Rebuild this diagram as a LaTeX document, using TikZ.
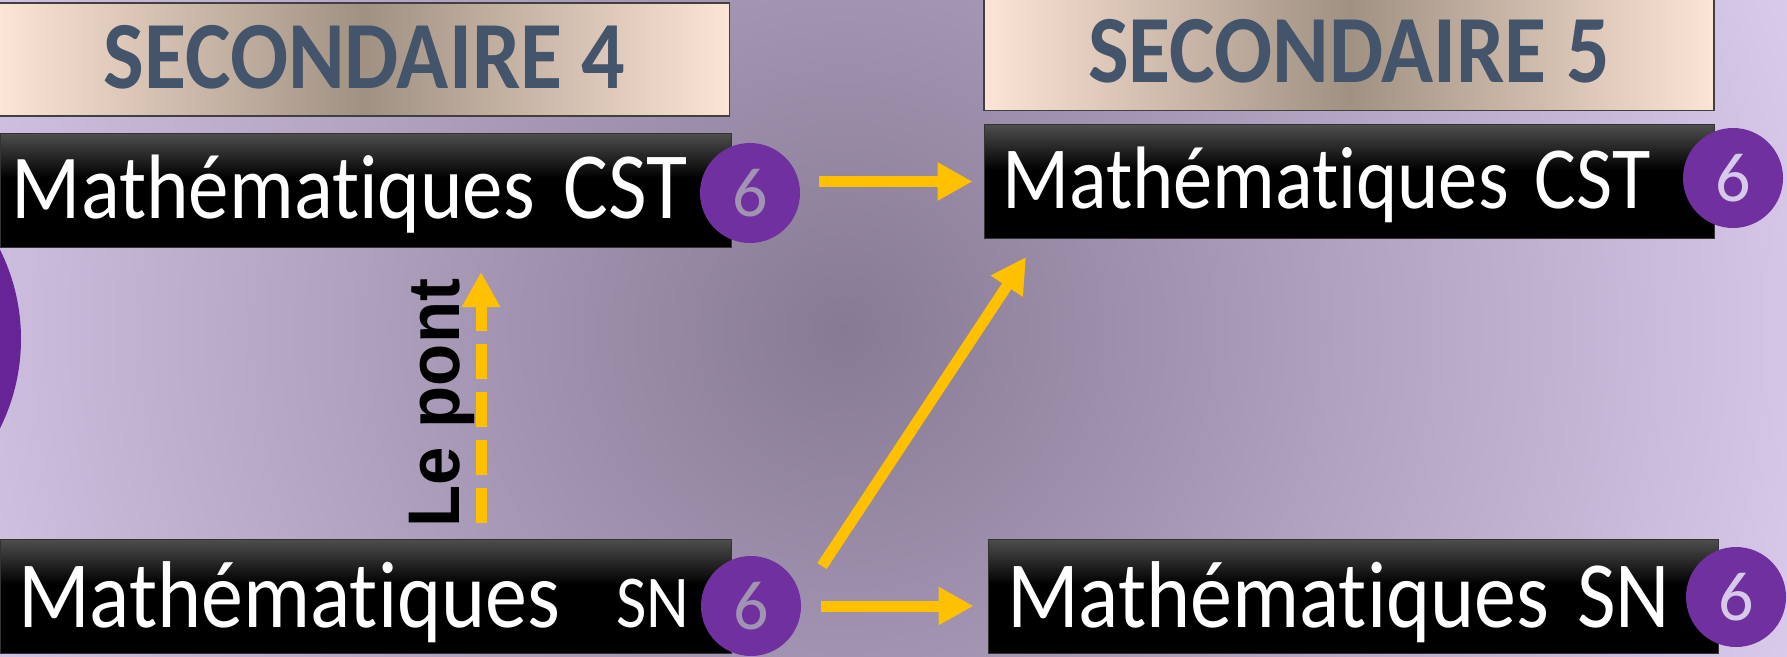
\documentclass[tikz,border=0pt]{standalone}
\usepackage{fontspec}
\usepackage{graphicx}
\setmainfont{Carlito}[Ligatures=CommonOff]
\newfontfamily\pontfont{Liberation Sans}
\usetikzlibrary{arrows.meta}
\definecolor{bgdark}{RGB}{135,122,148}
\definecolor{bglight}{RGB}{217,201,235}
\definecolor{peach}{RGB}{252,228,214}
\definecolor{taupe}{RGB}{160,145,130}
\definecolor{slate}{RGB}{68,84,106}
\definecolor{bargray}{RGB}{78,78,78}
\definecolor{badgeviolet}{RGB}{112,48,160}
\definecolor{deepviolet}{RGB}{102,36,150}
\definecolor{amber}{RGB}{255,192,0}
\definecolor{digitdim}{RGB}{160,148,178}
\definecolor{digitpale}{RGB}{214,202,232}
\newcommand{\tall}[2][1.13]{\scalebox{1}[#1]{#2}}
\pgfdeclareradialshading{backdrop}{\pgfpoint{0bp}{0bp}}{color(0bp)=(bgdark); color(25bp)=(bglight); color(50bp)=(bglight)}
\pgfdeclareverticalshading{barshade}{100bp}{color(0bp)=(black); color(25bp)=(black); color(55bp)=(black); color(75bp)=(bargray); color(100bp)=(bargray)}
\begin{document}
\begin{tikzpicture}[x=1pt,y=-1pt,
    level/.style={draw=black!75,line width=1.5pt,left color=peach,right color=peach,middle color=taupe,
      minimum width=730pt,minimum height=113pt,inner sep=0pt,text=slate,
      font=\fontsize{86}{86}\selectfont\bfseries,text height=57pt,text depth=0pt},
    course/.style={draw=black!80,line width=1pt,shade,shading=barshade,minimum height=114pt,inner ysep=0pt,
      text=white,align=left,text depth=0pt},
    badge/.style={circle,fill=badgeviolet,minimum size=100pt,inner sep=0pt,font=\fontsize{70}{70}\selectfont},
    flow/.style={draw=amber,line width=11pt,-{Triangle[length=35pt,width=36pt]}}]
  \useasboundingbox (0,0) rectangle (1787,656);
  \begin{scope}
    \clip (0,0) rectangle (1787,656);
    \shade[shading=backdrop] (843,330) circle[radius=1000pt];
    \fill[deepviolet] (-179,339) circle[radius=200pt];
  \end{scope}
  \node[level] (sec4) at (364.5,59.5) {\tall[1.12]{SECONDAIRE 4}};
  \node[level] (sec5) at (1349,54) {\tall[1.12]{SECONDAIRE 5}};
  \node[course,text width=707pt,inner xsep=12pt,text height=56pt,font=\fontsize{81}{81}\selectfont] (cst4) at (365.5,190) {\tall{Mathématiques\hspace{29pt}{\fontsize{84}{84}\selectfont CST}}};
  \node[course,text width=694pt,inner xsep=18pt,text height=53pt,font=\fontsize{78.5}{78.5}\selectfont] (cst5) at (1349,181.5) {\tall{Mathématiques~CST}};
  \node[course,text width=695pt,inner xsep=18pt,text height=62pt,font=\fontsize{84}{84}\selectfont] (sn4) at (365.5,596) {\tall{Mathématiques~~{\fontsize{66}{66}\selectfont SN}}};
  \node[course,text width=692pt,inner xsep=19pt,text height=62pt,font=\fontsize{84}{84}\selectfont] (sn5) at (1353,596) {\tall{Mathématiques~SN}};
  \node[badge,text=digitdim] (b4cst) at (750,193) {6};
  \node[badge,text=digitpale] (b5cst) at (1733,178) {6};
  \node[badge,text=digitdim] (b4sn) at (751,606) {6};
  \node[badge,text=digitpale] (b5sn) at (1736,597) {6};
  \draw[flow,shorten <=19pt,shorten >=11pt] (b4cst.east |- cst5.west) -- (cst5.west);
  \draw[flow,shorten <=20pt,shorten >=14pt] (b4sn.east) -- (b4sn.east -| sn5.west);
  \coordinate (rise) at (822,566);
  \coordinate (rise-top) at (1026,257);
  \draw[flow] (rise) -- (rise-top);
  \coordinate (pont-bas) at (481,523);
  \coordinate (pont-haut) at (481,272);
  \draw[flow,dash pattern=on 35pt off 13pt] (pont-bas) -- (pont-haut);
  \node[rotate=90,anchor=base west,inner sep=0pt,font=\pontfont\fontsize{69}{69}\selectfont\bfseries] (pont) at (459,528) {\tall[1.06]{Le pont}};
\end{tikzpicture}
\end{document}
